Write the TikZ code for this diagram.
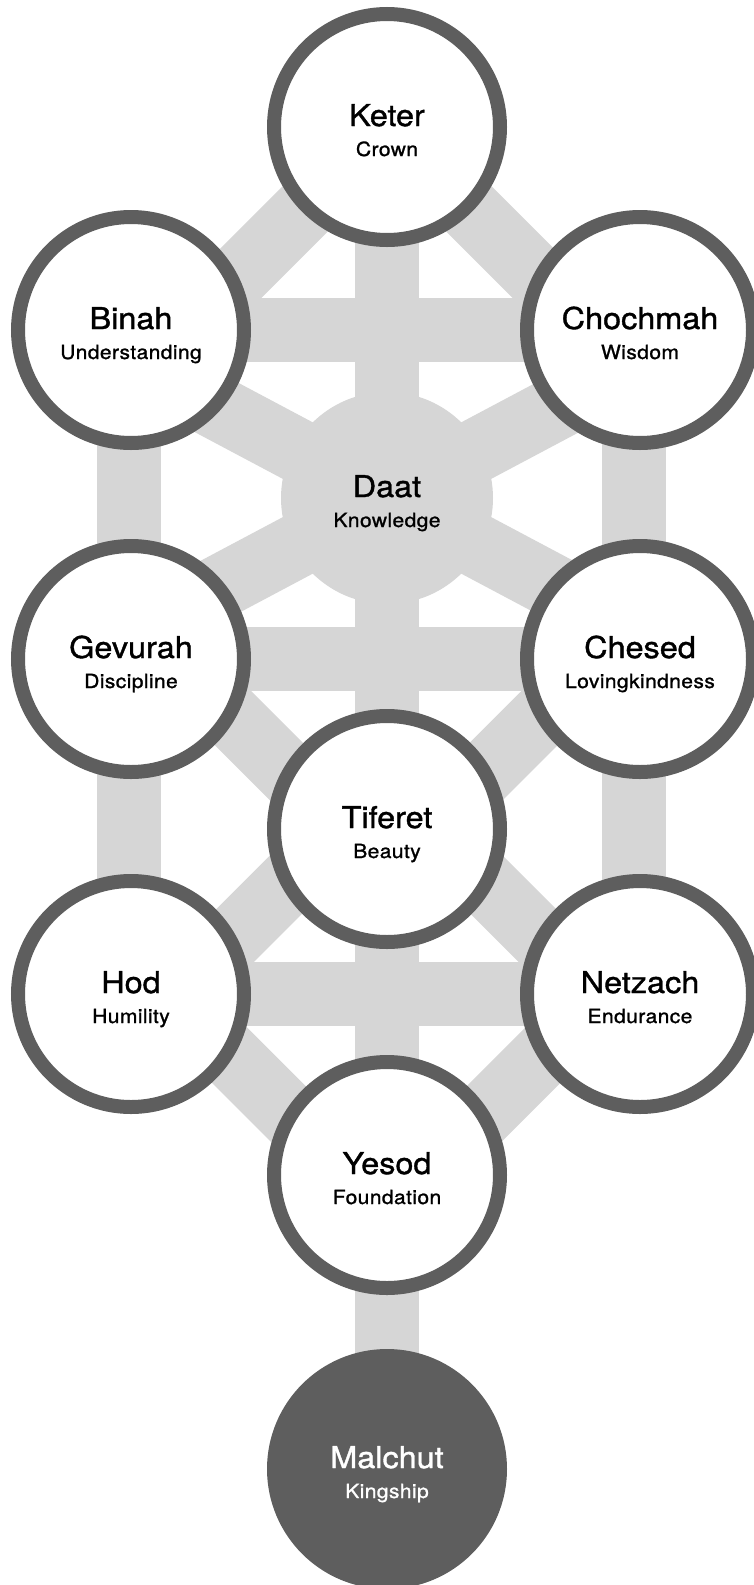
\documentclass[tikz,border=0pt]{standalone}
\usepackage{fontspec}
\usetikzlibrary{calc}
\setmainfont{TeX Gyre Heros}[FakeStretch=1.08,FakeBold=1.2]
\definecolor{ring}{HTML}{5E5E5E}
\definecolor{path}{HTML}{D6D6D6}
\begin{document}
\begin{tikzpicture}[x=1pt,y=-1pt,
  sefira/.style={circle,draw=ring,line width=14pt,fill=white,minimum size=226pt,inner sep=0pt},
  hidden/.style={circle,fill=path,minimum size=212pt,inner sep=0pt},
  kingdom/.style={circle,draw=ring,line width=14pt,fill=ring,minimum size=226pt,inner sep=0pt},
  bar/.style={draw=path,line width=64pt},
  ttl/.style={anchor=base,inner sep=0pt,font=\fontsize{30}{36}\selectfont,text=black},
  sub/.style={anchor=base,inner sep=0pt,font=\fontsize{19.5}{24}\selectfont\addfontfeature{LetterSpace=2},text=black}]
\useasboundingbox (0,0) rectangle (754,1585);
% node centres
\coordinate (c-keter) at (387,127);
\coordinate (c-binah) at (131,330);
\coordinate (c-chochmah) at (640,330);
\coordinate (c-daat) at (387,498);
\coordinate (c-gevurah) at (131,659);
\coordinate (c-chesed) at (640,659);
\coordinate (c-tiferet) at (387,829);
\coordinate (c-hod) at (131,994);
\coordinate (c-netzach) at (640,994);
\coordinate (c-yesod) at (387,1175);
\coordinate (c-malchut) at (387,1469);
% direction helpers
\coordinate (k-l) at ($(c-keter)+(-1,1)$);
\coordinate (k-r) at ($(c-keter)+(1,1)$);
\coordinate (d-ul) at ($(c-daat)+(-0.883,-0.469)$);
\coordinate (d-ur) at ($(c-daat)+(0.883,-0.469)$);
\coordinate (d-ll) at ($(c-daat)+(-0.883,0.469)$);
\coordinate (d-lr) at ($(c-daat)+(0.883,0.469)$);
\coordinate (m-gt) at ($(c-gevurah)!0.5!(c-tiferet)$);
\coordinate (m-gt2) at ($(m-gt)+(1,1)$);
\coordinate (m-ct) at ($(c-chesed)!0.5!(c-tiferet)$);
\coordinate (m-ct2) at ($(m-ct)+(-1,1)$);
\coordinate (m-th) at ($(c-tiferet)!0.5!(c-hod)$);
\coordinate (m-th2) at ($(m-th)+(-1,1)$);
\coordinate (m-tn) at ($(c-tiferet)!0.5!(c-netzach)$);
\coordinate (m-tn2) at ($(m-tn)+(1,1)$);
\coordinate (m-hy) at ($(c-hod)!0.5!(c-yesod)$);
\coordinate (m-hy2) at ($(m-hy)+(1,1)$);
\coordinate (m-ny) at ($(c-netzach)!0.5!(c-yesod)$);
\coordinate (m-ny2) at ($(m-ny)+(-1,1)$);
% paths
\draw[bar] (c-keter) -- ($(c-keter)!(c-binah)!(k-l)$);
\draw[bar] (c-keter) -- ($(c-keter)!(c-chochmah)!(k-r)$);
\draw[bar] (c-binah) -- (c-chochmah);
\draw[bar] (c-daat) -- ($(c-daat)!(c-binah)!(d-ul)$);
\draw[bar] (c-daat) -- ($(c-daat)!(c-chochmah)!(d-ur)$);
\draw[bar] (c-daat) -- ($(c-daat)!(c-gevurah)!(d-ll)$);
\draw[bar] (c-daat) -- ($(c-daat)!(c-chesed)!(d-lr)$);
\draw[bar] ([xshift=-2pt]c-binah) -- ([xshift=-2pt]c-gevurah);
\draw[bar] ([xshift=-6pt]c-chochmah) -- ([xshift=-6pt]c-chesed);
\draw[bar] (c-gevurah) -- (c-chesed);
\draw[bar] ($(m-gt)!(c-gevurah)!(m-gt2)$) -- ($(m-gt)!(c-tiferet)!(m-gt2)$);
\draw[bar] ($(m-ct)!(c-chesed)!(m-ct2)$) -- ($(m-ct)!(c-tiferet)!(m-ct2)$);
\draw[bar] ([xshift=-2pt]c-gevurah) -- ([xshift=-2pt]c-hod);
\draw[bar] ([xshift=-6pt]c-chesed) -- ([xshift=-6pt]c-netzach);
\draw[bar] ($(m-th)!(c-tiferet)!(m-th2)$) -- ($(m-th)!(c-hod)!(m-th2)$);
\draw[bar] ($(m-tn)!(c-tiferet)!(m-tn2)$) -- ($(m-tn)!(c-netzach)!(m-tn2)$);
\draw[bar] (c-hod) -- (c-netzach);
\draw[bar] ($(m-hy)!(c-hod)!(m-hy2)$) -- ($(m-hy)!(c-yesod)!(m-hy2)$);
\draw[bar] ($(m-ny)!(c-netzach)!(m-ny2)$) -- ($(m-ny)!(c-yesod)!(m-ny2)$);
\draw[bar] (c-keter) -- (c-daat);
\draw[bar] (c-daat) -- (c-tiferet);
\draw[bar] (c-tiferet) -- (c-yesod);
\draw[bar] (c-yesod) -- (c-malchut);
% circles
\node[sefira] (keter) at (c-keter) {};
\node[sefira] (binah) at (c-binah) {};
\node[sefira] (chochmah) at (c-chochmah) {};
\node[hidden] (daat) at (c-daat) {};
\node[sefira] (gevurah) at (c-gevurah) {};
\node[sefira] (chesed) at (c-chesed) {};
\node[sefira] (tiferet) at (c-tiferet) {};
\node[sefira] (hod) at (c-hod) {};
\node[sefira] (netzach) at (c-netzach) {};
\node[sefira] (yesod) at (c-yesod) {};
\node[kingdom] (malchut) at (c-malchut) {};
% labels
\foreach \n/\t/\s in {keter/Keter/Crown, binah/Binah/Understanding, chochmah/Chochmah/Wisdom,
  daat/Daat/Knowledge, gevurah/Gevurah/Discipline, chesed/Chesed/Lovingkindness,
  tiferet/Tiferet/Beauty, hod/Hod/Humility, netzach/Netzach/Endurance, yesod/Yesod/Foundation}{
  \node[ttl] (\n-t) at ([yshift=1pt]c-\n) {\t};
  \node[sub] (\n-s) at ([yshift=-29pt]c-\n) {\s};
}
\node[ttl,text=white] (malchut-t) at ([yshift=1pt]c-malchut) {Malchut};
\node[sub,text=white] (malchut-s) at ([yshift=-29pt]c-malchut) {Kingship};
\end{tikzpicture}
\end{document}
